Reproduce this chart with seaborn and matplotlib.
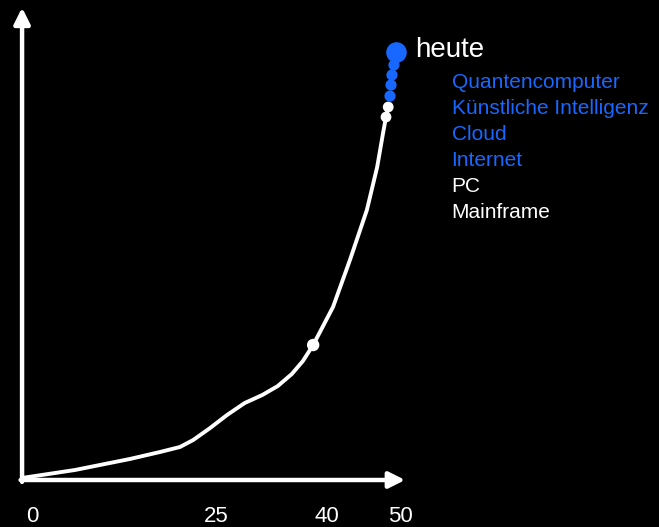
import pandas as pd
import seaborn as sns
import matplotlib.pyplot as plt

# growth curve (x in years, y in arbitrary "growth" units)
curve_x = [-1.36, 5.84, 13.3, 17.4, 20.1, 21.9, 24.2, 26.5, 28.9, 31.3, 33.4, 35.3, 36.8,
           38.2, 40.9, 43.2, 45.5, 46.9, 47.7, 48.1, 48.4]
curve_y = [0.43, 2.13, 4.47, 5.96, 7.02, 8.51, 11.06, 13.83, 16.38, 18.09, 20.0, 22.55, 25.3,
           28.72, 36.81, 46.81, 57.45, 66.60, 73.83, 77.23, 79.36]

# milestones on the curve
milestone_x = [38.2, 48.1, 48.4, 48.64, 48.78, 48.91, 49.18]
milestone_y = [28.72, 77.23, 79.36, 81.70, 84.04, 86.17, 88.30]
milestone_kind = ['white', 'white', 'white', 'blue', 'blue', 'blue', 'blue']
milestone_size = [80, 60, 60, 65, 65, 65, 65]

today_x, today_y = 49.46, 91.06

labels = ['Quantencomputer', 'Künstliche Intelligenz', 'Cloud', 'Internet', 'PC', 'Mainframe']
label_kind = ['blue', 'blue', 'blue', 'blue', 'white', 'white']

tick_values = [0, 25, 40, 50]

BLUE = '#1868ff'
palette = {'white': 'white', 'blue': BLUE}

sns.set_style('dark')
plt.rcParams['font.family'] = ['Liberation Sans', 'DejaVu Sans']

fig = plt.figure(figsize=(6.59, 5.27), dpi=100, facecolor='black')
ax = fig.add_axes([0, 0, 1, 1])
ax.set_facecolor('black')

# data -> pixel: px = 32 + 7.36*x ; py = 480 - 4.7*y
ax.set_xlim(-32 / 7.36, (659 - 32) / 7.36)
ax.set_ylim(-(527 - 480) / 4.7, 480 / 4.7)
ax.axis('off')

# axes arrows
x0, y0 = -1.35, 0.0
ax.annotate('', xy=(50.7, y0), xytext=(x0 - 0.2, y0),
            arrowprops=dict(arrowstyle='-|>', lw=3.2, color='white', mutation_scale=24,
                            shrinkA=0, shrinkB=0))
ax.annotate('', xy=(x0, 100.5), xytext=(x0, y0 - 0.4),
            arrowprops=dict(arrowstyle='-|>', lw=3.2, color='white', mutation_scale=24,
                            shrinkA=0, shrinkB=0))

# growth curve
df_curve = pd.DataFrame({'x': curve_x, 'y': curve_y})
sns.lineplot(data=df_curve, x='x', y='y', ax=ax, color='white', lw=2.8, sort=False,
             estimator=None, solid_joinstyle='round', solid_capstyle='round')

# milestone dots
df_pts = pd.DataFrame({'x': milestone_x, 'y': milestone_y, 'kind': milestone_kind})
sns.scatterplot(data=df_pts, x='x', y='y', hue='kind', palette=palette, ax=ax,
                s=milestone_size, linewidth=0, legend=False, zorder=5)
sns.scatterplot(x=[today_x], y=[today_y], ax=ax, color=BLUE, s=220, linewidth=0,
                legend=False, zorder=6)

ax.text(52.0, 91.5, 'heute', color='white', fontsize=20, va='center', ha='left')

# list of milestones
for i, (lab, kind) in enumerate(zip(labels, label_kind)):
    ax.text(57.0, (480 - 83 - 26 * i) / 4.7, lab, color=palette[kind], fontsize=15,
            va='center', ha='left')

# x tick labels
for t in tick_values:
    ax.text(t, -(517 - 480) / 4.7, str(t), color='white', fontsize=16, ha='center', va='center')

fig.savefig('out.png', dpi=100, facecolor='black')
